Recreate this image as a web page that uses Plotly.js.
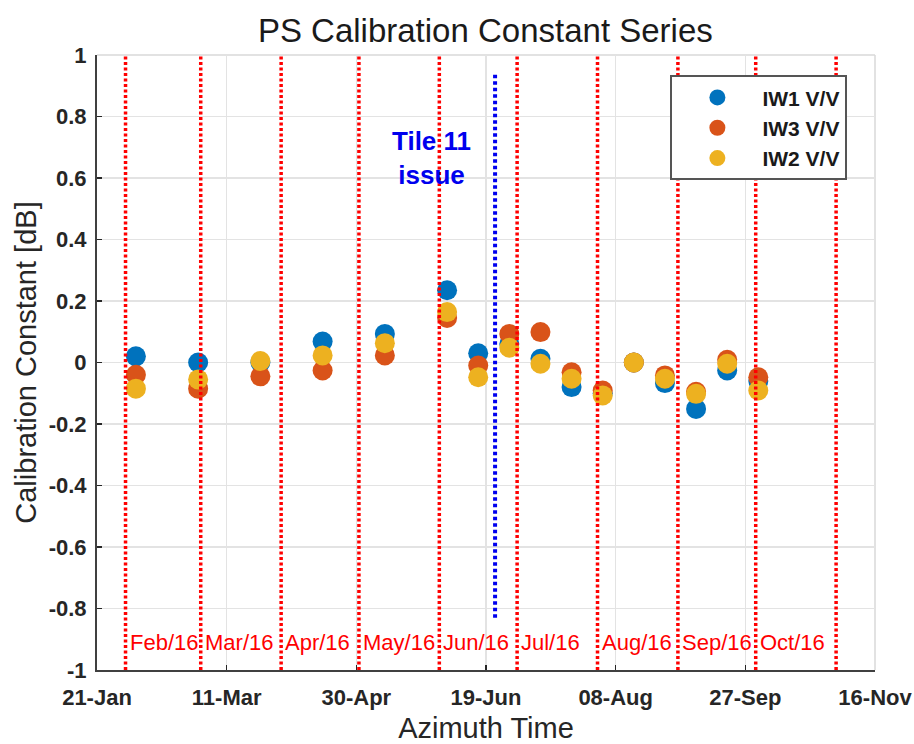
<!DOCTYPE html>
<html>
<head>
<meta charset="utf-8">
<script src="https://cdn.plot.ly/plotly-3.0.1.min.js"></script>
<style>html,body{margin:0;padding:0;background:#fff;}#chart{width:914px;height:744px;}</style>
</head>
<body>
<div id="chart"></div>
<script>
// ---- data ----
var dates = ['2016-02-05','2016-02-29','2016-03-24','2016-04-17','2016-05-11','2016-06-04','2016-06-16','2016-06-28','2016-07-10','2016-07-22','2016-08-03','2016-08-15','2016-08-27','2016-09-08','2016-09-20','2016-10-02'];
var iw1 = [0.02, 0.0, 0.0, 0.068, 0.093, 0.235, 0.03, 0.06, 0.012, -0.08, -0.10, 0.0, -0.067, -0.151, -0.026, -0.06];
var iw3 = [-0.04, -0.085, -0.045, -0.026, 0.023, 0.145, -0.01, 0.093, 0.099, -0.032, -0.091, 0.0, -0.042, -0.095, 0.009, -0.048];
var iw2 = [-0.085, -0.055, 0.005, 0.023, 0.063, 0.164, -0.048, 0.048, -0.004, -0.053, -0.107, 0.0, -0.053, -0.102, -0.004, -0.091];
var seriesNames = ['IW1 V/V', 'IW3 V/V', 'IW2 V/V'];

var xTickVals = ['2016-01-21','2016-03-11','2016-04-30','2016-06-19','2016-08-08','2016-09-27','2016-11-16'];
var xTickText = ['21-Jan','11-Mar','30-Apr','19-Jun','08-Aug','27-Sep','16-Nov'];
var yTickVals = [-1,-0.8,-0.6,-0.4,-0.2,0,0.2,0.4,0.6,0.8,1];
var yTickText = ['-1','-0.8','-0.6','-0.4','-0.2','0','0.2','0.4','0.6','0.8','1'];

var monthStarts = ['2016-02-01','2016-03-01','2016-04-01','2016-05-01','2016-06-01','2016-07-01','2016-08-01','2016-09-01','2016-10-01','2016-11-01'];
var monthLabels = ['Feb/16','Mar/16','Apr/16','May/16','Jun/16','Jul/16','Aug/16','Sep/16','Oct/16'];
var monthLabelY = -0.912;

var issueDate = '2016-06-22 12:00';
var issueYRange = [-0.83, 0.94];
var issueText = 'Tile 11<br>issue';
var issueTextX = '2016-05-29';
var issueTextY = 0.665;

// ---- style ----
var colors = ['#0072BD', '#D95319', '#EDB120'];
var FONT = 'Liberation Sans, Arial, Helvetica, sans-serif';
var TXT = '#262626';

var ys = [iw1, iw3, iw2];
var traces = ys.map(function (y, i) {
  return {
    type: 'scatter', mode: 'markers', x: dates, y: y, name: seriesNames[i],
    marker: { color: colors[i], size: 20, line: { width: 0 } }
  };
});

var shapes = monthStarts.map(function (d) {
  return { type: 'line', xref: 'x', yref: 'y', x0: d, x1: d, y0: -1, y1: 1,
    line: { color: '#ff0000', width: 3.5, dash: '3px,2.5px' }, layer: 'above' };
});
shapes.push({ type: 'line', xref: 'x', yref: 'y', x0: issueDate, x1: issueDate,
  y0: issueYRange[0], y1: issueYRange[1], line: { color: '#0000ee', width: 4, dash: '3.5px,3px' }, layer: 'above' });
// box top & right (light)
shapes.push({ type: 'line', xref: 'paper', yref: 'paper', x0: 0, x1: 1, y0: 1, y1: 1, line: { color: '#d9d9d9', width: 1.5 } , layer:'below'});
shapes.push({ type: 'line', xref: 'paper', yref: 'paper', x0: 1, x1: 1, y0: 0, y1: 1, line: { color: '#d9d9d9', width: 1.5 } , layer:'below'});

var annotations = monthLabels.map(function (t, i) {
  return { xref: 'x', yref: 'y', x: monthStarts[i], y: monthLabelY, text: t, showarrow: false,
    xanchor: 'left', yanchor: 'middle', xshift: 2, font: { family: FONT, size: 22, color: '#ff0000' } };
});
annotations.push({ xref: 'x', yref: 'y', x: issueTextX, y: issueTextY, text: '<b>' + issueText + '</b>',
  showarrow: false, xanchor: 'center', yanchor: 'middle', font: { family: FONT, size: 26, color: '#0000ee' } });

var layout = {
  width: 914, height: 744,
  margin: { l: 97, r: 39, t: 55, b: 74 },
  paper_bgcolor: '#ffffff', plot_bgcolor: '#ffffff',
  font: { family: FONT, color: TXT },
  title: { text: 'PS Calibration Constant Series', x: 0.531, xanchor: 'center', y: 0.959, yanchor: 'middle',
    font: { family: FONT, size: 33, color: '#1a1a1a' } },
  showlegend: true,
  legend: {
    x: 0.737, y: 0.967, xanchor: 'left', yanchor: 'top',
    bgcolor: '#ffffff', bordercolor: '#555555', borderwidth: 2,
    font: { family: FONT, size: 21, color: '#1a1a1a', weight: 'bold' },
    itemwidth: 80, tracegroupgap: 0
  },
  xaxis: {
    type: 'date', range: ['2016-01-21', '2016-11-16'],
    tickmode: 'array', tickvals: xTickVals, ticktext: xTickText,
    ticks: 'inside', ticklen: 5, tickwidth: 1.5, tickcolor: TXT,
    showline: true, linecolor: '#404040', linewidth: 2,
    showgrid: true, gridcolor: '#e3e3e3', gridwidth: 1.2, zeroline: false,
    tickfont: { family: FONT, size: 22, color: TXT, weight: 'bold' },
    ticklabelstandoff: 7,
    title: { text: 'Azimuth Time', font: { family: FONT, size: 29, color: TXT }, standoff: 12 }
  },
  yaxis: {
    range: [-1, 1], tickmode: 'array', tickvals: yTickVals, ticktext: yTickText,
    ticks: 'inside', ticklen: 5, tickwidth: 1.5, tickcolor: TXT,
    showline: true, linecolor: '#404040', linewidth: 2,
    showgrid: true, gridcolor: '#e3e3e3', gridwidth: 1.2, zeroline: false,
    tickfont: { family: FONT, size: 22, color: TXT, weight: 'bold' },
    ticklabelstandoff: 4,
    title: { text: 'Calibration Constant [dB]', font: { family: FONT, size: 29, color: TXT }, standoff: 4 }
  },
  shapes: shapes,
  annotations: annotations
};

Plotly.newPlot('chart', traces, layout, { displayModeBar: false, staticPlot: true });
</script>
</body>
</html>
